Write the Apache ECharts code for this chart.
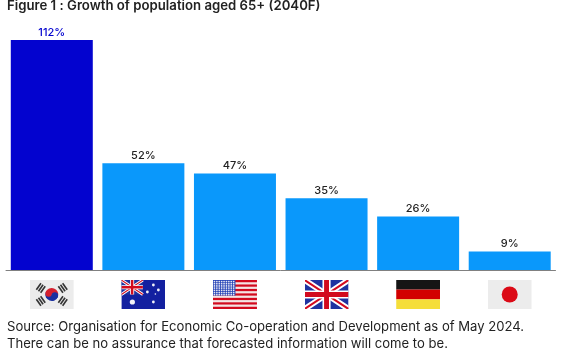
<!DOCTYPE html>
<html>
<head>
<meta charset="utf-8">
<style>html,body{margin:0;padding:0;background:#fff}#chart{width:580px;height:363px}</style>
<script src="https://cdn.jsdelivr.net/npm/echarts@6/dist/echarts.min.js"></script>
</head>
<body>
<div id="chart"></div>
<script>
// === DATA ===
const countries = ['KR', 'AU', 'US', 'GB', 'DE', 'JP'];
const growth = [112, 52, 47, 35, 26, 9];
const titleText = 'Figure 1 : Growth of population aged 65+ (2040F)';
const sourceLines = [
    'Source: Organisation for Economic Co-operation and Development as of May 2024.',
    'There can be no assurance that forecasted information will come to be.'
];

const fontName = 'Inter';
const lightBlue = '#0a98fb';
const darkBlue = '#0303cf';

// === FLAGS (small inline svg, 44x29) ===
function svgUri(body) {
    return 'data:image/svg+xml;charset=utf-8,' + encodeURIComponent(
        '<svg xmlns="http://www.w3.org/2000/svg" width="44" height="29" viewBox="0 0 44 29">' + body + '</svg>');
}
function trigram(x, y, rot) {
    return `<g transform="translate(${x} ${y}) rotate(${rot})" fill="#333">
        <rect x="-4" y="-3.4" width="8" height="1.6"/><rect x="-4" y="-0.8" width="8" height="1.6"/><rect x="-4" y="1.8" width="8" height="1.6"/></g>`;
}
let usStripes = '';
[0, 2, 4, 6, 8, 10, 12].forEach(i => {
    usStripes += `<rect y="${i * 29 / 13}" width="44" height="${29 / 13}" fill="#d20a1e"/>`;
});
let usStars = '';
for (let r = 0; r < 7; r++) {
    for (let c = 0; c < 9; c++) {
        usStars += `<circle cx="${1.5 + c * 2.4}" cy="${1.5 + r * 2.2}" r="0.85" fill="#e8e8f4"/>`;
    }
}
const unionJack = (w, h) => `<rect width="${w}" height="${h}" fill="#1f33a0"/>
    <path d="M0 0L${w} ${h}M${w} 0L0 ${h}" stroke="#fff" stroke-width="${h * 0.2}"/>
    <path d="M0 0L${w} ${h}M${w} 0L0 ${h}" stroke="#d20a1e" stroke-width="${h * 0.07}"/>
    <path d="M${w / 2} 0V${h}M0 ${h / 2}H${w}" stroke="#fff" stroke-width="${h * 0.28}"/>
    <path d="M${w / 2} 0V${h}M0 ${h / 2}H${w}" stroke="#d20a1e" stroke-width="${h * 0.17}"/>`;
const auStars = [[11, 22, 2.6], [26, 12, 1.4], [32, 5, 1.4], [37, 10, 1.4], [32, 22, 1.4], [34, 14, 0.8]]
    .map(s => `<circle cx="${s[0]}" cy="${s[1]}" r="${s[2]}" fill="#f2f2f8"/>`).join('');

const flags = {
    KR: svgUri(`<rect width="44" height="29" fill="#ececec"/>
        <path d="M15.5 14.5a6.5 6.5 0 0 1 13 0z" fill="#d5202e" transform="rotate(20 22 14.5)"/>
        <path d="M15.5 14.5a6.5 6.5 0 0 0 13 0z" fill="#1a30a0" transform="rotate(20 22 14.5)"/>
        <circle cx="18.9" cy="13.4" r="3.25" fill="#d5202e"/><circle cx="25.1" cy="15.6" r="3.25" fill="#1a30a0"/>`
        + trigram(11, 8, -55) + trigram(33, 8, 55) + trigram(11, 21, 55) + trigram(33, 21, -55)),
    AU: svgUri(`<rect width="45" height="29" fill="#1320a0"/><g>${unionJack(21.5, 14.5)}</g>${auStars}`),
    US: svgUri(`<rect width="44" height="29" fill="#f4e4e4"/>${usStripes}<rect width="22.5" height="15.6" fill="#2a48b8"/>${usStars}`),
    GB: svgUri(unionJack(44, 29)),
    DE: svgUri('<rect width="44" height="9.6" fill="#151515"/><rect y="9.6" width="44" height="9.8" fill="#d20000"/><rect y="19.4" width="44" height="9.6" fill="#f5de3a"/>'),
    JP: svgUri('<rect width="44" height="29" fill="#ececec"/><circle cx="22" cy="14.5" r="8" fill="#db0a16"/>')
};
const flagRich = {};
countries.forEach(c => {
    flagRich[c] = { width: 44, height: 29, backgroundColor: { image: flags[c] } };
});

// === RENDER ===
const chart = echarts.init(document.getElementById('chart'));
chart.setOption({
    animation: false,
    backgroundColor: '#fff',
    title: [
        { text: titleText, left: 7, top: 0, padding: 0,
          textStyle: { fontFamily: fontName, fontSize: 13.2, fontWeight: 600, color: '#222' } },
        { text: sourceLines.join('\n'), left: 7, top: 319, padding: 0,
          textStyle: { fontFamily: fontName, fontSize: 13.1, fontWeight: 400, color: '#222', lineHeight: 17 } }
    ],
    grid: { left: 6, right: 24.5, top: 40, bottom: 93 },
    xAxis: {
        type: 'category',
        data: countries,
        axisLine: { lineStyle: { color: '#808080', width: 1 } },
        axisTick: { show: false },
        axisLabel: {
            margin: 10,
            interval: 0,
            formatter: v => `{${v}|}`,
            rich: flagRich
        }
    },
    yAxis: { type: 'value', min: 0, max: 112, show: false, splitLine: { show: false } },
    series: [{
        type: 'bar',
        data: growth.map((v, i) => ({
            value: v,
            itemStyle: { color: i === 0 ? darkBlue : lightBlue },
            label: { color: i === 0 ? darkBlue : '#222' }
        })),
        barWidth: 82,
        label: {
            show: true,
            position: 'top',
            distance: 2,
            formatter: p => p.value + '%',
            fontFamily: fontName,
            fontSize: 11,
            fontWeight: 500
        }
    }]
});
</script>
</body>
</html>
